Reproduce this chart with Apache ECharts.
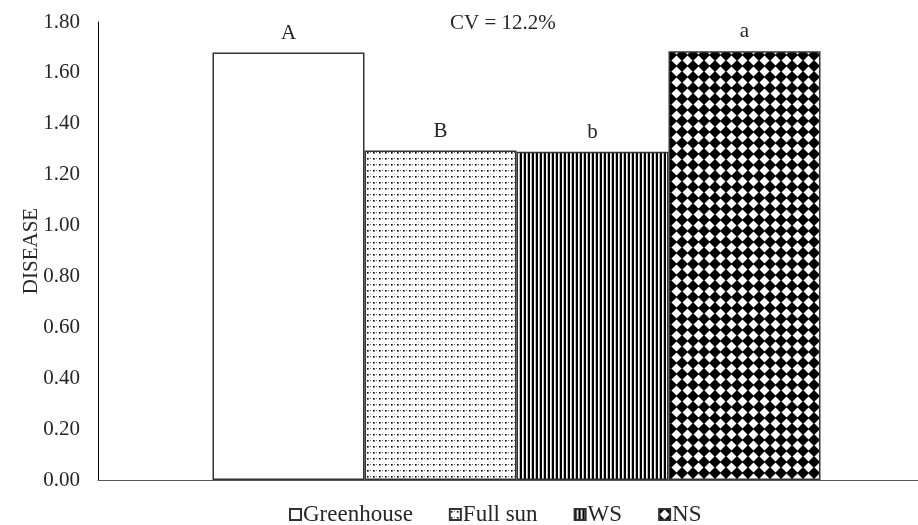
<!DOCTYPE html>
<html>
<head>
<meta charset="utf-8">
<script src="https://cdn.jsdelivr.net/npm/echarts@6/dist/echarts.min.js"></script>
<style>html,body{margin:0;padding:0;background:#fff}#c{width:918px;height:525px}</style>
</head>
<body>
<div id="c"></div>
<script>
const seriesNames = ['Greenhouse', 'Full sun', 'WS', 'NS'];
const diseaseValues = [1.68, 1.295, 1.29, 1.685];
const letters = ['A', 'B', 'b', 'a'];
const yTicks = { min: 0, max: 1.8, interval: 0.2 };
const cvText = 'CV = 12.2%';
const yName = 'DISEASE';

function tile(w, h, draw) {
  const c = document.createElement('canvas');
  c.width = w; c.height = h;
  const g = c.getContext('2d');
  g.fillStyle = '#fff'; g.fillRect(0, 0, w, h);
  draw(g);
  return { image: c, repeat: 'repeat' };
}
const patterns = [
  '#ffffff',
  tile(6, 6, g => { g.fillStyle = '#000'; g.fillRect(1, 2, 1.6, 1.6); g.fillStyle = '#666'; g.fillRect(4, 2, 1, 1); }),
  tile(4, 4, g => { g.fillStyle = '#000'; g.fillRect(0, 0, 2, 4); g.fillStyle = '#bbb'; g.fillRect(3, 0, 1, 4); }),
  tile(11, 11, g => {
    g.fillStyle = '#000';
    [[0,0],[11,0],[0,11],[11,11]].forEach(([x,y]) => {
      g.beginPath(); g.moveTo(x - 6, y); g.lineTo(x, y - 6); g.lineTo(x + 6, y); g.lineTo(x, y + 6); g.closePath(); g.fill();
    });
  })
];

const FONT = 'Liberation Serif';
const BAR_W = 152;
const chart = echarts.init(document.getElementById('c'));

const barSeries = seriesNames.map((n, i) => ({
  name: n, type: 'bar', data: [diseaseValues[i]],
  barGap: '0%', barWidth: BAR_W,
  itemStyle: { color: patterns[i], borderColor: '#333', borderWidth: 1.5 },
  label: { show: true, position: 'top', distance: 9, formatter: letters[i], fontFamily: FONT, fontSize: 21, color: '#262626' }
}));
// invisible spacer series so the bar group sits where it does in the original
const spacer = {
  name: '_spacer', type: 'bar', data: [0], barGap: '0%', barWidth: 17,
  itemStyle: { color: 'rgba(0,0,0,0)', borderWidth: 0 }, label: { show: false },
  silent: true, tooltip: { show: false }
};

chart.setOption({
  backgroundColor: '#fff',
  animation: false,
  textStyle: { fontFamily: FONT },
  grid: { left: 98, top: 22, bottom: 45, right: 0 },
  graphic: [{
    type: 'text', left: 450, top: 13,
    style: { text: cvText, font: '21px "Liberation Serif"', fill: '#262626' }
  }],
  legend: {
    left: 289, top: 503, padding: 0,
    itemWidth: 11, itemHeight: 11, itemGap: 36,
    icon: 'rect',
    textStyle: { fontFamily: FONT, fontSize: 23, color: '#262626', padding: [0, 0, 0, -3] },
    data: seriesNames
  },
  xAxis: {
    type: 'category', data: [''],
    axisLine: { lineStyle: { color: '#595959', width: 1 } },
    axisTick: { show: false }, axisLabel: { show: false }
  },
  yAxis: {
    type: 'value', min: yTicks.min, max: yTicks.max, interval: yTicks.interval,
    name: yName, nameLocation: 'middle', nameGap: 56, nameRotate: 90, nameMoveOverlap: false,
    nameTextStyle: { fontFamily: FONT, fontSize: 21, color: '#262626' },
    axisLine: { show: true, lineStyle: { color: '#000', width: 1 } },
    axisTick: { show: false },
    splitLine: { show: false },
    axisLabel: { margin: 18, fontFamily: FONT, fontSize: 21, color: '#262626', formatter: v => v.toFixed(2) }
  },
  series: [spacer].concat(barSeries)
});
</script>
</body>
</html>
